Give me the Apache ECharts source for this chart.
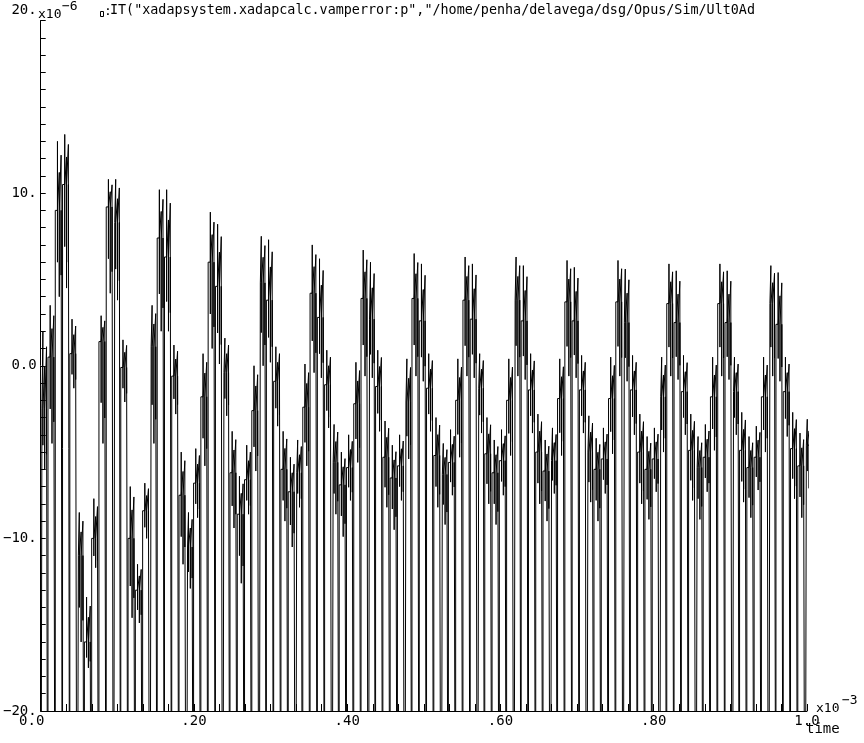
<!DOCTYPE html>
<html>
<head>
<meta charset="utf-8">
<script src="https://cdn.jsdelivr.net/npm/echarts@6/dist/echarts.min.js"></script>
<style>
html,body{margin:0;padding:0;background:#fff;}
#chart{width:864px;height:743px;}
</style>
</head>
<body>
<div id="chart"></div>
<script>
// x in units of 1e-3 (time), y in units of 1e-6
const xTickLabels = {0:'0.0', 0.2:'.20', 0.4:'.40', 0.6:'.60', 0.8:'.80', 1:'1.0'};
const yTickLabels = {20:'20.', 10:'10.', 0:'0.0', '-10':'−10.', '-20':'−20.'};
const titleText = 'IT("xadapsystem.xadapcalc.vamperror:p","/home/penha/delavega/dsg/Opus/Sim/Ult0Ad';

// clock period of the down-going spikes (x1e-3)
const spikePeriod = 0.0095;
// value the spikes reach (far below the -20 axis limit)
const spikeFloor = -40;

// signal level held in each clock interval
const levels = [
  -2.5, 0.5, 9.0, 10.5, 0.7, -11.0, -16.0,
  -10.0, 1.4, 9.2, 8.3, -0.1, -10.0, -13.0,
  -8.4, 1.1, 7.4, 6.3, -0.6, -7.5, -10.5,
  -6.8, -1.8, 6.0, 4.6, -0.4, -6.2, -8.6,
  -6.6, -2.6, 4.8, 3.8, -0.9, -6.0, -7.3,
  -6.2, -2.4, 4.2, 2.8, -1.1, -5.6, -6.9,
  -5.9, -2.2, 3.9, 2.7, -1.2, -5.3, -6.5,
  -5.8, -2.1, 3.9, 2.6, -1.3, -5.2, -6.3,
  -5.6, -2.0, 3.8, 2.7, -1.3, -5.1, -6.2,
  -5.5, -2.0, 3.8, 2.6, -1.4, -5.0, -6.1,
  -5.5, -1.9, 3.7, 2.6, -1.4, -5.0, -6.0,
  -5.4, -1.9, 3.7, 2.5, -1.4, -5.0, -6.0,
  -5.4, -1.8, 3.6, 2.5, -1.5, -4.9, -5.9,
  -5.3, -1.8, 3.6, 2.5, -1.5, -4.9, -5.9,
  -5.3, -1.8, 3.6, 2.4, -1.5, -4.8, -5.8,
  -4.6
];
// upward ripple excursion in each interval
const fuzzUp = [
  4.5, 3.0, 4.0, 2.9, 2.0, 2.5, 2.6,
  2.3, 1.5, 1.6, 2.5, 1.6, 3.0, 1.5,
  1.6, 2.4, 2.8, 3.9, 1.8, 2.5, 2.0,
  2.0, 2.5, 2.9, 3.6, 2.0, 2.4, 2.2,
  2.0, 2.6, 2.7, 3.5, 2.0, 2.2, 2.0,
  1.9, 2.5, 2.8, 3.4, 2.0, 2.2, 1.9,
  1.9, 2.4, 2.8, 3.3, 2.1, 2.1, 1.9,
  1.8, 2.5, 2.6, 3.3, 2.0, 2.2, 1.8,
  1.9, 2.4, 2.5, 3.2, 2.0, 2.1, 1.9,
  1.8, 2.4, 2.5, 3.2, 2.1, 2.2, 1.8,
  1.9, 2.3, 2.4, 3.1, 2.0, 2.1, 1.8,
  1.8, 2.4, 2.4, 3.1, 2.0, 2.2, 1.9,
  1.8, 2.3, 2.3, 3.0, 2.1, 2.1, 1.8,
  1.9, 2.3, 2.3, 3.0, 2.0, 2.2, 1.8,
  1.8, 2.3, 2.2, 3.0, 2.0, 2.1, 1.9,
  1.5
];
// downward ripple excursion in each interval
const fuzzDown = [
  3.5, 5.0, 5.0, 6.0, 2.0, 5.0, 1.5,
  1.7, 5.9, 5.0, 4.5, 2.0, 4.6, 1.9,
  1.6, 5.6, 5.4, 4.3, 2.2, 4.0, 2.4,
  2.0, 4.0, 5.0, 4.5, 2.5, 3.2, 4.0,
  2.0, 3.5, 4.8, 3.6, 2.6, 3.0, 3.2,
  2.0, 3.4, 4.6, 3.5, 2.5, 3.0, 3.0,
  1.9, 3.4, 4.5, 3.4, 2.6, 2.9, 3.0,
  2.0, 3.3, 4.5, 3.5, 2.5, 3.0, 2.9,
  1.9, 3.3, 4.4, 3.4, 2.6, 2.9, 3.0,
  2.0, 3.2, 4.4, 3.4, 2.5, 3.0, 2.9,
  1.9, 3.3, 4.3, 3.3, 2.5, 2.9, 3.0,
  2.0, 3.2, 4.3, 3.4, 2.6, 3.0, 2.9,
  1.9, 3.2, 4.2, 3.3, 2.5, 2.9, 3.0,
  2.0, 3.1, 4.2, 3.3, 2.5, 3.0, 2.9,
  1.9, 3.2, 4.2, 3.3, 2.6, 2.9, 3.0,
  2.5
];

// ---- build the polyline (drawing pattern only) ----
const ripple = [[0.3, 1.0, 0.6], [0.55, 0.55, 1.0], [0.8, 0.8, 0.75]];
const data = [];
for (let i = 0; i < levels.length; i++) {
  const t = i * spikePeriod;
  const L = levels[i];
  const w = (i % 5 === 0) ? spikePeriod * 0.17 : 0;
  if (i > 0) data.push([t, levels[i - 1]]);
  data.push([t, spikeFloor]);
  data.push([t + w, spikeFloor]);
  data.push([t + w, L]);
  for (const [f, mu, md] of ripple) {
    const tf = t + f * spikePeriod;
    data.push([tf, L]);
    data.push([tf, L + fuzzUp[i] * mu]);
    data.push([tf, L - fuzzDown[i] * md]);
    data.push([tf, L]);
  }
}
data.push([1.0, levels[levels.length - 1]]);

const FONT = 'DejaVu Sans Mono';
const chart = echarts.init(document.getElementById('chart'), null, {renderer: 'canvas'});
chart.setOption({
  animation: false,
  backgroundColor: '#fff',
  grid: {left: 37, right: 57, top: 20.5, bottom: 32, containLabel: false},
  xAxis: {
    type: 'value', min: 0, max: 1.0, interval: 0.2,
    axisLine: {onZero: false, lineStyle: {color: '#000', width: 1}},
    axisTick: {show: true, inside: true, length: 7, lineStyle: {color: '#000'}},
    minorTick: {show: true, splitNumber: 6, length: 7, lineStyle: {color: '#000'}},
    splitLine: {show: false},
    axisLabel: {
      color: '#000', fontFamily: FONT, fontSize: 14, margin: 3,
      showMinLabel: true, showMaxLabel: true, hideOverlap: false,
      formatter: v => {
        const k = Math.round(v * 10) / 10;
        const s = xTickLabels[k];
        if (k === 0) return '{z|' + s + '}';
        return s;
      },
      rich: {z: {fontFamily: FONT, fontSize: 14, color: '#000', padding: [0, 18, 0, 0]}}
    }
  },
  yAxis: {
    type: 'value', min: -20, max: 20, interval: 10,
    axisLine: {show: true, onZero: false, lineStyle: {color: '#000', width: 1}},
    axisTick: {show: true, inside: true, length: 5, lineStyle: {color: '#000'}},
    minorTick: {show: true, splitNumber: 10, length: 5, lineStyle: {color: '#000'}},
    splitLine: {show: false},
    axisLabel: {
      color: '#000', fontFamily: FONT, fontSize: 14, margin: 4,
      showMinLabel: true, showMaxLabel: true,
      formatter: v => {
        const s = yTickLabels[String(Math.round(v))];
        if (Math.round(v) === 20) return '{t|' + s + '}';
        return s;
      },
      rich: {t: {fontFamily: FONT, fontSize: 14, color: '#000', padding: [0, 0, 20, 0]}}
    }
  },
  series: [{
    type: 'line',
    data: data,
    showSymbol: false,
    clip: true,
    lineStyle: {color: '#000', width: 1},
    sampling: null
  }],
  graphic: [
    {type: 'text', left: 38, top: 8, style: {text: 'x10', font: '13px "DejaVu Sans Mono"', fill: '#000'}},
    {type: 'text', left: 62, top: 0, style: {text: '−6', font: '13px "DejaVu Sans Mono"', fill: '#000'}},
    {type: 'rect', shape: {x: 100.5, y: 11.5, width: 3, height: 5}, style: {fill: 'none', stroke: '#000', lineWidth: 1}},
    {type: 'text', left: 104, top: 5, style: {text: ':', font: '13px "DejaVu Sans Mono"', fill: '#000'}},
    {type: 'text', left: 110, top: 4, style: {text: titleText, font: '13.4px "DejaVu Sans Mono"', fill: '#000'}},
    {type: 'text', left: 816, top: 702, style: {text: 'x10', font: '13px "DejaVu Sans Mono"', fill: '#000'}},
    {type: 'text', left: 842, top: 694, style: {text: '−3', font: '13px "DejaVu Sans Mono"', fill: '#000'}},
    {type: 'text', left: 806, top: 722, style: {text: 'time', font: '14px "DejaVu Sans Mono"', fill: '#000'}}
  ]
});
</script>
</body>
</html>
